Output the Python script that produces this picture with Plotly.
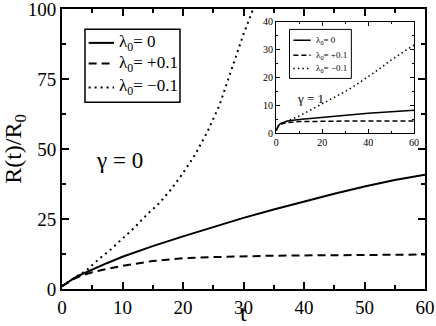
import plotly.graph_objects as go

# main panel, gamma = 0
t_main = [0, 1, 2, 3, 5, 7.5, 10, 15, 20, 25, 30, 35, 40, 45, 50, 55, 60]
r_zero = [1, 2.5, 3.9, 5.0, 7.0, 9.3, 11.5, 15.3, 18.8, 22.2, 25.4, 28.4, 31.3, 34.0, 36.6, 38.9, 40.8]
r_plus = [1, 2.4, 3.6, 4.6, 6.0, 7.2, 8.3, 10.0, 11.0, 11.4, 11.7, 11.9, 12.0, 12.1, 12.2, 12.25, 12.3]
t_minus = [0, 2, 4, 6, 8, 10, 12, 14, 16, 18, 20, 22, 24, 26, 28, 30, 31.6, 33]
r_minus = [1, 4.0, 6.6, 10.5, 14.0, 18.0, 22.0, 26.5, 30.5, 35.5, 41.4, 48.0, 56.0, 65.5, 78.0, 91.0, 100, 108]

# inset, gamma = 1
t_in = [0, 1, 2, 5, 10, 15, 20, 25, 30, 35, 40, 45, 50, 55, 60]
ri_zero = [1, 2.8, 3.6, 4.4, 5.0, 5.4, 5.8, 6.15, 6.5, 6.85, 7.2, 7.5, 7.8, 8.05, 8.3]
ri_plus = [1, 2.7, 3.3, 3.9, 4.2, 4.3, 4.35, 4.38, 4.4, 4.4, 4.4, 4.42, 4.43, 4.44, 4.45]
ri_minus = [1, 2.6, 3.3, 4.5, 6.2, 8.4, 10.8, 12.8, 15.0, 17.5, 20.3, 23.2, 26.3, 29.0, 31.7]

labels = ["λ<sub>0</sub>= 0", "λ<sub>0</sub>= +0.1", "λ<sub>0</sub>= −0.1"]
FONT = "Liberation Serif"

fig = go.Figure()

styles = ["solid", "8px,5px", "2px,4px"]
main_data = [(t_main, r_zero), (t_main, r_plus), (t_minus, r_minus)]
for (tx, ry), lab, dash in zip(main_data, labels, styles):
    fig.add_trace(go.Scatter(
        x=tx, y=ry, mode="lines", name=lab, showlegend=False,
        line=dict(color="black", width=2, dash=dash),
    ))

inset_data = [ri_zero, ri_plus, ri_minus]
inset_styles = ["solid", "5px,3px", "1.5px,3px"]
for ry, lab, dash in zip(inset_data, labels, inset_styles):
    fig.add_trace(go.Scatter(
        x=t_in, y=ry, mode="lines", name=lab, showlegend=False,
        line=dict(color="black", width=1.5, dash=dash),
        xaxis="x2", yaxis="y2",
    ))

shapes = []
annotations = []


def add_legend(xref, yref, box, rows, sample, text_x, styles, width, fsize, bw):
    # legend box with line samples, in data coords of the given axes
    shapes.append(dict(type="rect", xref=xref, yref=yref, x0=box[0], x1=box[1],
                       y0=box[2], y1=box[3], line=dict(color="black", width=bw),
                       fillcolor="white", layer="above"))
    for row_y, lab, dash in zip(rows, labels, styles):
        shapes.append(dict(type="line", xref=xref, yref=yref, x0=sample[0], x1=sample[1],
                           y0=row_y, y1=row_y, line=dict(color="black", width=width, dash=dash)))
        annotations.append(dict(text=lab, x=text_x, y=row_y, xref=xref, yref=yref,
                                xanchor="left", showarrow=False,
                                font=dict(size=fsize, family=FONT)))


add_legend("x", "y", (3.8, 19.5, 66.7, 92.8), [87.9, 80.5, 72.0], (4.4, 8.6), 9.1,
           styles, 2, 17, 1.5)
add_legend("x2", "y2", (5.8, 32.7, 19.7, 37.3), [33.4, 28.0, 23.3], (7.5, 15), 16.5,
           inset_styles, 1.5, 9, 1)

annotations += [
    dict(text="t", x=0.5, y=0, xref="paper", yref="paper", yshift=-24,
         yanchor="middle", showarrow=False, font=dict(size=24, family=FONT)),
    dict(text="γ = 0", x=9.5, y=46, xref="x", yref="y", showarrow=False,
         font=dict(size=23, family=FONT)),
    dict(text="γ = 1", x=15, y=12.6, xref="x2", yref="y2", showarrow=False,
         font=dict(size=13, family=FONT)),
]

axis_common = dict(
    showgrid=False, zeroline=False, showline=True, linecolor="black",
    mirror="ticks", ticks="inside", tickcolor="black", automargin=False,
    ticklabeloverflow="allow",
)

fig.update_layout(
    width=436, height=326,
    margin=dict(l=62, r=11, t=9, b=37),
    paper_bgcolor="white", plot_bgcolor="white",
    font=dict(family=FONT, color="black"),
    xaxis=dict(
        **axis_common, range=[0, 60], dtick=10, linewidth=2, ticklen=7, tickwidth=1.5,
        minor=dict(dtick=5, ticks="inside", ticklen=4, tickcolor="black"),
        tickfont=dict(size=19), ticklabelstandoff=0,
    ),
    yaxis=dict(
        **axis_common, range=[0, 100], dtick=25, linewidth=2, ticklen=7, tickwidth=1.5,
        minor=dict(dtick=12.5, ticks="inside", ticklen=4, tickcolor="black"),
        tickfont=dict(size=19), ticklabelstandoff=0,
        title=dict(text="R(t)/R<sub>0</sub>", font=dict(size=24), standoff=17),
    ),
    xaxis2=dict(
        **axis_common, domain=[0.59, 0.97], anchor="y2", range=[0, 60], dtick=20,
        linewidth=1.2, ticklen=4, tickfont=dict(size=10),
        minor=dict(dtick=10, ticks="inside", ticklen=2, tickcolor="black"),
    ),
    yaxis2=dict(
        **axis_common, domain=[0.556, 0.954], anchor="x2", range=[0, 40], dtick=10,
        linewidth=1.2, ticklen=4, tickfont=dict(size=10),
        minor=dict(dtick=5, ticks="inside", ticklen=2, tickcolor="black"),
    ),
    shapes=shapes,
    annotations=annotations,
)

fig.write_html("out.html", config={"displayModeBar": False},
               post_script="document.body.style.margin = '0';")
